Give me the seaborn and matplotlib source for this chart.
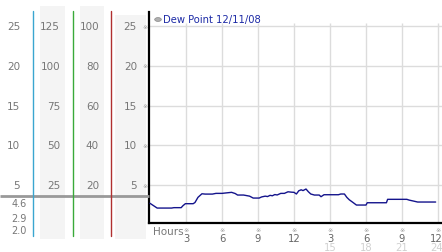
import matplotlib
matplotlib.use("Agg")
import matplotlib.pyplot as plt
from matplotlib.patches import Rectangle
import seaborn as sns
import pandas as pd

# ---- data ----
hours = [0.0, 0.2, 0.6, 1.8, 2.0, 2.6, 2.75, 2.95, 3.6, 3.75, 4.0, 4.33, 4.6, 5.2, 5.5,
         6.0, 6.3, 6.8, 7.1, 7.3, 7.8, 8.3, 8.6, 9.1, 9.3, 9.6, 9.8, 10.0, 10.2, 10.4,
         10.6, 10.9, 11.2, 11.5, 11.8, 12.0, 12.2, 12.4, 12.6, 12.75, 13.0, 13.2, 13.4,
         13.7, 14.1, 14.25, 14.5, 15.7, 15.9, 16.2, 16.4, 16.6, 16.9, 17.2, 18.0, 18.1,
         19.7, 19.8, 21.4, 21.6, 21.9, 22.3, 23.8]
dew_point = [2.7, 2.5, 2.1, 2.1, 2.15, 2.15, 2.4, 2.65, 2.65, 2.8, 3.45, 3.9, 3.86, 3.86, 3.95,
             3.95, 4.0, 4.08, 3.93, 3.74, 3.74, 3.6, 3.36, 3.36, 3.5, 3.6, 3.55, 3.7, 3.65, 3.8,
             3.75, 3.95, 3.95, 4.15, 4.1, 4.08, 3.87, 4.28, 4.4, 4.3, 4.5, 4.15, 3.87,
             3.74, 3.74, 3.53, 3.78, 3.78, 3.87, 3.87, 3.45, 3.15, 2.82, 2.48, 2.48, 2.77,
             2.77, 3.2, 3.2, 3.1, 3.0, 2.86, 2.86]
current_value = 3.65
y_ticks = [5, 10, 15, 20, 25]
col2_labels = ["25", "50", "75", "100", "125"]
col3_labels = ["20", "40", "60", "80", "100"]
stats_labels = ["4.6", "2.9", "2.0"]
x_ticks = [3, 6, 9, 12, 15, 18, 21, 24]
x_tick_labels = ["3", "6", "9", "12", "3", "6", "9", "12"]
x_tick_labels2 = ["", "", "", "", "15", "18", "21", "24"]
legend_label = "Dew Point 12/11/08"

df = pd.DataFrame({"hour": hours, "dew": dew_point})

sns.set_style("white")
plt.rcParams["font.family"] = ["DejaVu Sans"]

W, H = 442, 253
fig = plt.figure(figsize=(W / 100, H / 100), dpi=100)

def fx(px):
    return px / W

def fy(py):
    return 1 - py / H

top_px, bot_px = 13, 224.3
ymin, ymax = 0.18, 26.8
ax = fig.add_axes([fx(149), fy(bot_px), fx(442 - 149), (bot_px - top_px) / H])
ax.set_facecolor("none")
ax.set_xlim(-0.08, 24.33)
ax.set_ylim(ymin, ymax)

grid_c = "#dcdcdc"
for t in y_ticks:
    ax.axhline(t, color=grid_c, lw=1, zorder=1)
ax.vlines(x_ticks, ymin, 25.4, color=grid_c, lw=1, zorder=1)

sns.lineplot(data=df, x="hour", y="dew", ax=ax, color="#14148c", lw=1, zorder=3)
ax.set_xlabel("")
ax.set_ylabel("")
ax.set_xticks([])
ax.set_yticks([])
for s in ["top", "right"]:
    ax.spines[s].set_visible(False)
for s in ["left", "bottom"]:
    ax.spines[s].set_color("black")
    ax.spines[s].set_linewidth(1.6)

# x tick labels
xt = ax.get_xaxis_transform()
def fr(py):
    return (bot_px - py) / (bot_px - top_px)
for t, lab, lab2 in zip(x_ticks, x_tick_labels, x_tick_labels2):
    tx = t - 0.15 if t == x_ticks[-1] else t
    ax.text(t, fr(230), "※", transform=xt, ha="center", va="center", fontsize=4.5,
            color="#999999", clip_on=False)
    ax.text(tx, fr(238.5), lab, transform=xt, ha="center", va="center", fontsize=7.2,
            color="#666666", clip_on=False)
    if lab2:
        ax.text(tx, fr(248), lab2, transform=xt, ha="center", va="center", fontsize=7.2,
                color="#d0d0d0", clip_on=False)
fig.text(fx(153), fy(232), "Hours", ha="left", va="center", fontsize=7.5, color="#777777")

# legend
fig.patches.append(plt.Circle((fx(158), fy(20.5)), 0.0075, transform=fig.transFigure,
                              facecolor="#b0b0b0", edgecolor="#888888", lw=0.5))
fig.text(fx(163), fy(20.5), legend_label, ha="left", va="center", fontsize=7.2,
         color="#1c2aa6")

# left scale panel
axl = fig.add_axes([0, fy(bot_px), fx(149), (bot_px - top_px) / H])
axl.set_xlim(0, 149)
axl.set_ylim(ymin, ymax)
axl.axis("off")

def v(py):
    return ymin + (bot_px - py) / (bot_px - top_px) * (ymax - ymin)

shade = "#f4f4f4"
for x0, x1, y0 in [(40, 65, 7), (80, 104, 7), (115, 146, 16)]:
    axl.add_patch(Rectangle((x0, v(240)), x1 - x0, v(y0) - v(240), facecolor=shade,
                            edgecolor="none", clip_on=False, zorder=0))

axl.plot([0, 149], [current_value, current_value], color="#999999", lw=2,
         clip_on=False, zorder=2, solid_capstyle="butt")
for x0, c in [(33, "#3aa6d0"), (72.5, "#3aaa3a"), (111, "#b03030")]:
    axl.plot([x0, x0], [v(237), v(12)], color=c, lw=1, clip_on=False, zorder=3)

lab_c = "#777777"
for t, l2, l3 in zip(y_ticks, col2_labels, col3_labels):
    axl.text(20, t, str(t), ha="right", va="center", fontsize=7.5, color=lab_c)
    axl.text(60, t, l2, ha="right", va="center", fontsize=7.5, color=lab_c)
    axl.text(99, t, l3, ha="right", va="center", fontsize=7.5, color=lab_c)
    axl.text(137, t, str(t), ha="right", va="center", fontsize=7.5, color=lab_c)
    axl.text(145.5, t, "※", ha="center", va="center", fontsize=4.5, color="#999999")

for lab, py in zip(stats_labels, [204, 219, 231]):
    axl.text(27, v(py), lab, ha="right", va="center", fontsize=7, color=lab_c,
             clip_on=False)

fig.savefig("out.png", dpi=100)
